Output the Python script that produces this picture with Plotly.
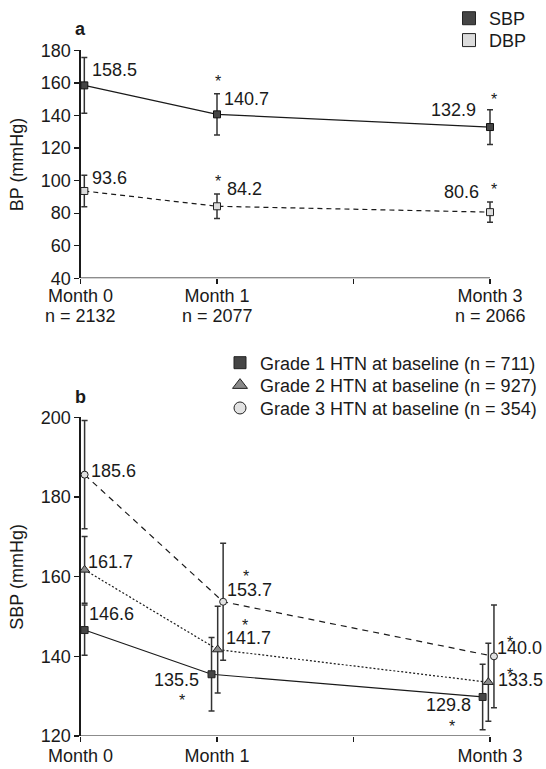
import plotly.graph_objects as go

# ---------------- data ----------------
months = [0, 1, 3]
month_names = ["Month 0", "Month 1", "Month 3"]
n_top = [2132, 2077, 2066]

sbp_mean = [158.5, 140.7, 132.9]
sbp_sd = [17.2, 12.7, 10.7]
dbp_mean = [93.6, 84.2, 80.6]
dbp_sd = [9.7, 7.5, 6.2]
top_sig = [False, True, True]

g1_mean = [146.6, 135.5, 129.8]
g1_sd = [6.3, 9.2, 8.2]
g2_mean = [161.7, 141.7, 133.5]
g2_sd = [8.4, 10.9, 9.8]
g3_mean = [185.6, 153.7, 140.0]
g3_sd = [13.6, 14.7, 12.9]
bot_sig = [False, True, True]

grade_names = ["Grade 1 HTN at baseline (n = 711)",
               "Grade 2 HTN at baseline (n = 927)",
               "Grade 3 HTN at baseline (n = 354)"]

# ---------------- geometry / style ----------------
FW, FH = 546, 769


def fx(px):
    return px / FW


def fy(py):
    return 1 - py / FH


X0PX, UNIT = 80.5, 136.5
XMAX = 3.06
TOP_PX = (45.7, 275.0)
BOT_PX = (415.0, 735.8)
FONT = "Liberation Sans, Arial, Helvetica, sans-serif"
FS = 18
INK = "#1a1a1a"

top_jit = [0.028, 0.0, 0.0]
g_jit = [[0.03, -0.04, -0.054], [0.03, 0.005, -0.012], [0.03, 0.045, 0.029]]


def xs(jit):
    return [m + j for m, j in zip(months, jit)]


def err(arr):
    return dict(type="data", array=arr, visible=True, thickness=1.5, width=3, color="#333")


fig = go.Figure()

# top panel
fig.add_trace(go.Scatter(x=xs(top_jit), y=sbp_mean, mode="lines+markers", showlegend=False,
                         line=dict(color=INK, width=1.2),
                         marker=dict(symbol="square", size=7, color="#454545", line=dict(color="#111", width=1)),
                         error_y=err(sbp_sd), cliponaxis=False, xaxis="x", yaxis="y"))
fig.add_trace(go.Scatter(x=xs(top_jit), y=dbp_mean, mode="lines+markers", showlegend=False,
                         line=dict(color=INK, width=1.2, dash="5px,4px"),
                         marker=dict(symbol="square", size=7, color="#dcdcdc", line=dict(color="#222", width=1)),
                         error_y=err(dbp_sd), cliponaxis=False, xaxis="x", yaxis="y"))

# bottom panel
g_means = [g1_mean, g2_mean, g3_mean]
g_sds = [g1_sd, g2_sd, g3_sd]
g_sym = ["square", "triangle-up", "circle"]
g_size = [7, 9, 7]
g_col = ["#454545", "#8a8a8a", "#e2e2e2"]
g_dash = ["solid", "2px,2px", "6px,5px"]
for i in range(3):
    fig.add_trace(go.Scatter(x=xs(g_jit[i]), y=g_means[i], mode="lines+markers", showlegend=False,
                             line=dict(color=INK, width=1.2, dash=g_dash[i]),
                             marker=dict(symbol=g_sym[i], size=g_size[i], color=g_col[i],
                                         line=dict(color="#222", width=1)),
                             error_y=err(g_sds[i]), cliponaxis=False, xaxis="x2", yaxis="y2"))

# legend entries: one single-item legend per entry, placed like the reference
LEG_OFF = 20  # px from legend top to item centre
legend_layout = {}
entries = [
    ("SBP", "square", 13, "#454545", "x", "y", 469.0, 15.0),
    ("DBP", "square", 13, "#dcdcdc", "x", "y", 469.0, 37.0),
    (grade_names[0], "square", 12, g_col[0], "x2", "y2", 240.0, 361.7),
    (grade_names[1], "triangle-up", 13, g_col[1], "x2", "y2", 240.0, 384.3),
    (grade_names[2], "circle", 12, g_col[2], "x2", "y2", 240.0, 407.3),
]
for j, (name, sym, size, col, xa, ya, cx, cy) in enumerate(entries):
    lname = "legend" if j == 0 else f"legend{j + 1}"
    fig.add_trace(go.Scatter(x=[None], y=[None], mode="markers", name=name, legend=lname,
                             xaxis=xa, yaxis=ya,
                             marker=dict(symbol=sym, size=size, color=col, line=dict(color="#222", width=1))))
    legend_layout[lname] = dict(x=fx(cx - 20), y=fy(cy - LEG_OFF), xanchor="left", yanchor="top",
                                bgcolor="rgba(0,0,0,0)", font=dict(family=FONT, size=FS, color=INK),
                                itemclick=False, itemdoubleclick=False)

ann = []
LAB_DX, LAB_DY = -2.0, 2.5


def lab(xref, yref, x, y, text, xanchor, xshift, yshift, size=FS):
    ann.append(dict(x=x, y=y, xref=xref, yref=yref, text=text, showarrow=False,
                    xanchor=xanchor, yanchor="middle", xshift=xshift, yshift=yshift,
                    font=dict(family=FONT, size=size, color=INK)))


# top value labels
top_lab_style = {
    "sbp": [("left", 8, 12.6), ("left", 7, 13), ("right", -10.5, 14.6)],
    "dbp": [("left", 8, 10.5), ("left", 9.7, 15), ("right", -7, 17.8)],
}
top_star_style = {
    "sbp": [None, (1, 36), (3.5, 31.5)],
    "dbp": [None, (1, 28), (3.5, 26.5)],
}
STAR_FS = 16
STAR_CORR = 3.5
for key, means in (("sbp", sbp_mean), ("dbp", dbp_mean)):
    xv = xs(top_jit)
    for k in range(3):
        a, dx, dy = top_lab_style[key][k]
        lab("x", "y", xv[k], means[k], f"{means[k]:.1f}", a, dx + LAB_DX, dy + LAB_DY)
        if top_sig[k]:
            sx, sy = top_star_style[key][k]
            lab("x", "y", xv[k], means[k], "*", "center", sx, sy - STAR_CORR, STAR_FS)

bot_lab_style = [
    [("left", 4.3, 14), ("right", -8.4, -8.3), ("right", -7.7, -10.2)],
    [("left", 3.3, 5.3), ("left", 8.3, 8.8), ("left", 9.5, 0)],
    [("left", 6.7, 1), ("left", 3.4, 9), ("left", 3.5, 5.6)],
]
bot_star_style = [
    [None, (-30, -22.3), (-30.4, -26.5)],
    [None, (27.6, 28), (21.7, 11.7)],
    [None, (22.7, 29), (16, 17.3)],
]
for i in range(3):
    xv = xs(g_jit[i])
    for k in range(3):
        a, dx, dy = bot_lab_style[i][k]
        lab("x2", "y2", xv[k], g_means[i][k], f"{g_means[i][k]:.1f}", a, dx + LAB_DX, dy + LAB_DY)
        if bot_sig[k]:
            sx, sy = bot_star_style[i][k]
            lab("x2", "y2", xv[k], g_means[i][k], "*", "center", sx, sy - STAR_CORR, STAR_FS)

# sample sizes under the top month labels
for m, n in zip(months, n_top):
    ann.append(dict(x=m, y=fy(313), xref="x", yref="paper", text=f"n = {n}", showarrow=False,
                    xanchor="center", yanchor="middle", font=dict(family=FONT, size=FS, color=INK)))

# panel letters and axis titles
ann.append(dict(x=fx(80), y=fy(24), xref="paper", yref="paper", text="<b>a</b>", showarrow=False,
                xanchor="center", yanchor="middle", font=dict(family=FONT, size=FS, color=INK)))
ann.append(dict(x=fx(80), y=fy(395), xref="paper", yref="paper", text="<b>b</b>", showarrow=False,
                xanchor="center", yanchor="middle", font=dict(family=FONT, size=FS, color=INK)))
ann.append(dict(x=fx(17), y=fy((TOP_PX[0] + TOP_PX[1]) / 2), xref="paper", yref="paper", text="BP (mmHg)",
                textangle=-90, showarrow=False, xanchor="center", yanchor="middle",
                font=dict(family=FONT, size=FS, color=INK)))
ann.append(dict(x=fx(17), y=fy((BOT_PX[0] + BOT_PX[1]) / 2), xref="paper", yref="paper", text="SBP (mmHg)",
                textangle=-90, showarrow=False, xanchor="center", yanchor="middle",
                font=dict(family=FONT, size=FS, color=INK)))

xdom = [fx(X0PX), fx(X0PX + XMAX * UNIT)]
month_ticktext = [month_names[0], month_names[1], "", month_names[2]]

axis_common = dict(showgrid=False, zeroline=False, ticks="outside", ticklen=5, tickwidth=1.2,
                   tickcolor=INK, tickfont=dict(family=FONT, size=FS, color=INK), automargin=False)

fig.update_layout(
    width=FW, height=FH, margin=dict(l=0, r=0, t=0, b=0),
    paper_bgcolor="white", plot_bgcolor="white",
    font=dict(family=FONT, size=FS, color=INK),
    xaxis=dict(domain=xdom, range=[0, XMAX], tickvals=[0, 1, 2, 3], ticktext=month_ticktext,
               showline=False, anchor="y", ticklabelstandoff=-4, **axis_common),
    yaxis=dict(domain=[fy(TOP_PX[1]), fy(TOP_PX[0])], range=[40, 180], tickvals=list(range(40, 181, 20)),
               showline=True, linecolor=INK, linewidth=1.2, anchor="x", **axis_common),
    xaxis2=dict(domain=xdom, range=[0, XMAX], tickvals=[0, 1, 2, 3], ticktext=month_ticktext,
                showline=False, anchor="y2", ticklabelstandoff=-2, **axis_common),
    yaxis2=dict(domain=[fy(BOT_PX[1]), fy(BOT_PX[0])], range=[120, 200], tickvals=list(range(120, 201, 20)),
                showline=True, linecolor=INK, linewidth=1.2, anchor="x2", **axis_common),
    shapes=[
        dict(type="line", xref="x", yref="y", x0=0, x1=3, y0=40, y1=40, line=dict(color=INK, width=1.2)),
        dict(type="line", xref="x2", yref="y2", x0=0, x1=3, y0=120, y1=120, line=dict(color=INK, width=1.2)),
    ],
    annotations=ann,
    showlegend=True,
    **legend_layout,
)

fig.write_html("out.html", config={"displayModeBar": False, "staticPlot": True},
               post_script="document.body.style.margin='0px';document.body.style.overflow='hidden';")
